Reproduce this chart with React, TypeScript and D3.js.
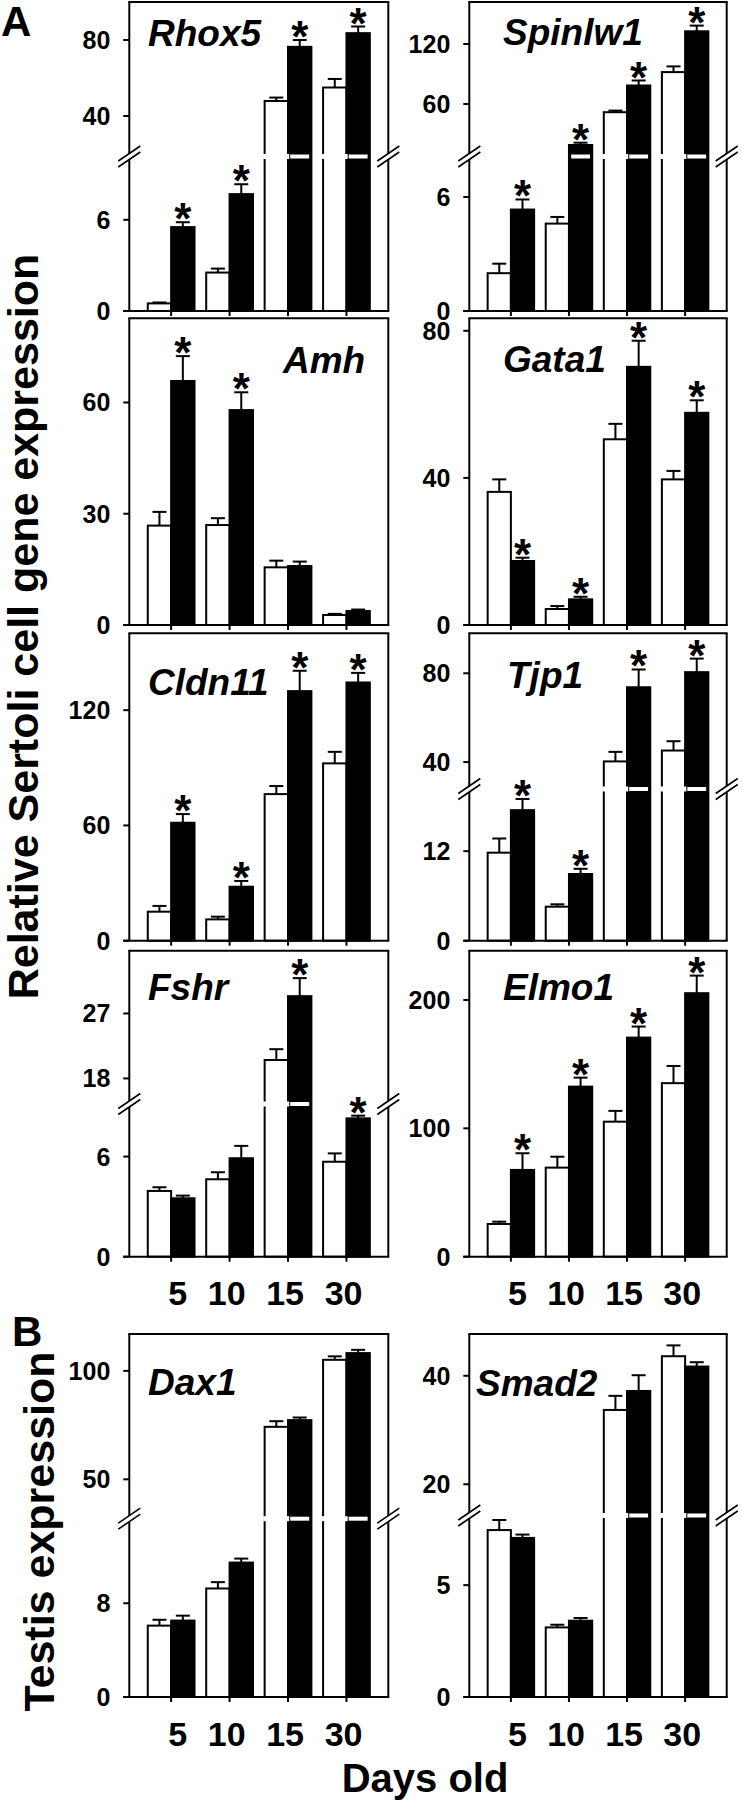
import React from 'react';
import * as d3 from 'd3';

// ---------- data ----------
const days = ['5', '10', '15', '30'];

const rhox5White = [0.5, 2.53, 47.9, 55.0];
const rhox5WhiteErr = [0.06, 0.26, 1.8, 4.5];
const rhox5Black = [5.52, 7.69, 76.4, 83.6];
const rhox5BlackErr = [0.32, 0.65, 3.6, 3.5];
const rhox5Stars = [1, 1, 1, 1];
const rhox5Domain = [0, 10, 20, 100];
const rhox5Ticks = [0, 6, 40, 80];

const spinlw1White = [1.99, 4.6, 51.8, 91.9];
const spinlw1WhiteErr = [0.5, 0.35, 1.6, 5.7];
const spinlw1Black = [5.34, 19.0, 78.5, 132.7];
const spinlw1BlackErr = [0.53, 2.3, 5.0, 5.7];
const spinlw1Stars = [1, 1, 1, 1];
const spinlw1Domain = [0, 8, 10, 162];
const spinlw1Ticks = [0, 6, 60, 120];

const amhWhite = [26.8, 26.95, 15.55, 2.7];
const amhWhiteErr = [3.7, 1.85, 1.8, 0.3];
const amhBlack = [65.8, 57.95, 15.9, 3.77];
const amhBlackErr = [6.7, 4.8, 1.2, 0.4];
const amhStars = [1, 1, 0, 0];
const amhDomain = [0, 82.7];
const amhTicks = [0, 30, 60];

const gata1White = [36.2, 4.35, 50.5, 39.6];
const gata1WhiteErr = [3.4, 0.8, 4.2, 2.3];
const gata1Black = [17.4, 6.98, 70.2, 57.7];
const gata1BlackErr = [0.9, 0.7, 7.1, 3.4];
const gata1Stars = [1, 1, 1, 1];
const gata1Domain = [0, 83.4];
const gata1Ticks = [0, 40, 80];

const cldn11White = [15.1, 11.1, 76.3, 92.3];
const cldn11WhiteErr = [3, 1.4, 4.2, 6];
const cldn11Black = [61.4, 28.1, 129.9, 134.4];
const cldn11BlackErr = [4.5, 3, 10.6, 5];
const cldn11Stars = [1, 1, 1, 1];
const cldn11Domain = [0, 160];
const cldn11Ticks = [0, 60, 120];

const tjp1White = [11.8, 4.56, 40.3, 45.2];
const tjp1WhiteErr = [1.9, 0.32, 4.3, 4.2];
const tjp1Black = [17.5, 8.94, 73.7, 80.5];
const tjp1BlackErr = [1.5, 0.7, 8, 6.1];
const tjp1Stars = [1, 1, 1, 1];
const tjp1Domain = [0, 20, 29, 98];
const tjp1Ticks = [0, 12, 40, 80];

const fshrWhite = [3.94, 4.64, 20.55, 5.69];
const fshrWhiteErr = [0.22, 0.42, 1.5, 0.5];
const fshrBlack = [3.5, 5.9, 29.4, 8.29];
const fshrBlackErr = [0.16, 0.74, 2.5, 0.16];
const fshrStars = [0, 0, 1, 1];
const fshrDomain = [0, 9, 14.8, 35.7];
const fshrTicks = [0, 6, 18, 27];

const elmo1White = [25.5, 69.4, 105.2, 135.2];
const elmo1WhiteErr = [1.8, 8.5, 8.4, 13.4];
const elmo1Black = [67.6, 132.5, 170.7, 205.3];
const elmo1BlackErr = [13, 7, 8.6, 13.7];
const elmo1Stars = [1, 1, 1, 1];
const elmo1Domain = [0, 238.4];
const elmo1Ticks = [0, 100, 200];

const dax1White = [6.09, 9.26, 74.2, 105.1];
const dax1WhiteErr = [0.5, 0.54, 2.6, 1.6];
const dax1Black = [6.52, 11.47, 77.3, 108.2];
const dax1BlackErr = [0.42, 0.34, 1.2, 1.5];
const dax1Stars = [0, 0, 0, 0];
const dax1Domain = [0, 15, 33, 117];
const dax1Ticks = [0, 8, 50, 100];

const smad2White = [7.46, 3.11, 33.7, 43.6];
const smad2WhiteErr = [0.45, 0.12, 2.6, 2];
const smad2Black = [7.11, 3.41, 37.2, 41.7];
const smad2BlackErr = [0.15, 0.12, 2.9, 0.8];
const smad2Stars = [0, 0, 0, 0];
const smad2Domain = [0, 8, 14.7, 47.7];
const smad2Ticks = [0, 5, 20, 40];

// ---------- layout ----------
const FONT = '"Liberation Sans", Arial, Helvetica, sans-serif';
const cols = [
  { ax: 129.3, rx: 388.3 },
  { ax: 469.3, rx: 726.7 },
];
const rows = [
  { top: 2, base: 311 },
  { top: 318.3, base: 625 },
  { top: 633.3, base: 940.7 },
  { top: 950.7, base: 1256.7 },
  { top: 1334, base: 1697 },
];

type Panel = {
  gene: string; col: number; row: number;
  white: number[]; whiteErr: number[]; black: number[]; blackErr: number[];
  stars: number[]; domain: number[]; ticks: number[];
  brk?: number; lx: number; ly: number; xLabels?: boolean;
};

const panels: Panel[] = [
  { gene: 'Rhox5', col: 0, row: 0, white: rhox5White, whiteErr: rhox5WhiteErr, black: rhox5Black, blackErr: rhox5BlackErr, stars: rhox5Stars, domain: rhox5Domain, ticks: rhox5Ticks, brk: 156.5, lx: 148, ly: 46 },
  { gene: 'Spinlw1', col: 1, row: 0, white: spinlw1White, whiteErr: spinlw1WhiteErr, black: spinlw1Black, blackErr: spinlw1BlackErr, stars: spinlw1Stars, domain: spinlw1Domain, ticks: spinlw1Ticks, brk: 156.5, lx: 503, ly: 45 },
  { gene: 'Amh', col: 0, row: 1, white: amhWhite, whiteErr: amhWhiteErr, black: amhBlack, blackErr: amhBlackErr, stars: amhStars, domain: amhDomain, ticks: amhTicks, lx: 283, ly: 373 },
  { gene: 'Gata1', col: 1, row: 1, white: gata1White, whiteErr: gata1WhiteErr, black: gata1Black, blackErr: gata1BlackErr, stars: gata1Stars, domain: gata1Domain, ticks: gata1Ticks, lx: 503, ly: 372 },
  { gene: 'Cldn11', col: 0, row: 2, white: cldn11White, whiteErr: cldn11WhiteErr, black: cldn11Black, blackErr: cldn11BlackErr, stars: cldn11Stars, domain: cldn11Domain, ticks: cldn11Ticks, lx: 148, ly: 695 },
  { gene: 'Tjp1', col: 1, row: 2, white: tjp1White, whiteErr: tjp1WhiteErr, black: tjp1Black, blackErr: tjp1BlackErr, stars: tjp1Stars, domain: tjp1Domain, ticks: tjp1Ticks, brk: 789, lx: 507, ly: 688 },
  { gene: 'Fshr', col: 0, row: 3, white: fshrWhite, whiteErr: fshrWhiteErr, black: fshrBlack, blackErr: fshrBlackErr, stars: fshrStars, domain: fshrDomain, ticks: fshrTicks, brk: 1104, lx: 148, ly: 1000, xLabels: true },
  { gene: 'Elmo1', col: 1, row: 3, white: elmo1White, whiteErr: elmo1WhiteErr, black: elmo1Black, blackErr: elmo1BlackErr, stars: elmo1Stars, domain: elmo1Domain, ticks: elmo1Ticks, lx: 503, ly: 1000, xLabels: true },
  { gene: 'Dax1', col: 0, row: 4, white: dax1White, whiteErr: dax1WhiteErr, black: dax1Black, blackErr: dax1BlackErr, stars: dax1Stars, domain: dax1Domain, ticks: dax1Ticks, brk: 1518.7, lx: 148, ly: 1395, xLabels: true },
  { gene: 'Smad2', col: 1, row: 4, white: smad2White, whiteErr: smad2WhiteErr, black: smad2Black, blackErr: smad2BlackErr, stars: smad2Stars, domain: smad2Domain, ticks: smad2Ticks, brk: 1515.5, lx: 476, ly: 1396, xLabels: true },
];

const SW = 2;
const GAP = 2.5;

function BreakMark({ cx, y }: { cx: number; y: number }) {
  const dx = 11, dy = 7.5, off = 3;
  const pts = [
    [cx - dx, y - off + dy], [cx + dx, y - off - dy],
    [cx + dx, y + off - dy], [cx - dx, y + off + dy],
  ];
  return (
    <g>
      <polygon points={pts.map(p => p.join(',')).join(' ')} fill="#fff" stroke="none" />
      <line x1={cx - dx} y1={y - off + dy} x2={cx + dx} y2={y - off - dy} stroke="#000" strokeWidth={1.6} />
      <line x1={cx - dx} y1={y + off + dy} x2={cx + dx} y2={y + off - dy} stroke="#000" strokeWidth={1.6} />
    </g>
  );
}

function PanelView({ p }: { p: Panel }) {
  const { ax, rx } = cols[p.col];
  const { top, base } = rows[p.row];
  const hasBreak = p.domain.length === 4 && p.brk !== undefined;
  const x = d3.scaleBand<string>().domain(days).range([ax, rx]).paddingInner(0.2).paddingOuter(0.316);
  const y = d3.scaleLinear()
    .domain(p.domain)
    .range(hasBreak ? [base, (p.brk as number) + GAP, (p.brk as number) - GAP, top] : [base, top]);
  const bw = x.bandwidth() / 2;
  const brk = p.brk as number;
  const upperStart = hasBreak ? p.domain[2] : Infinity;

  const vLine = (xx: number) =>
    hasBreak ? (
      <g>
        <line x1={xx} y1={top} x2={xx} y2={brk - GAP} stroke="#000" strokeWidth={SW} />
        <line x1={xx} y1={brk + GAP} x2={xx} y2={base} stroke="#000" strokeWidth={SW} />
      </g>
    ) : (
      <line x1={xx} y1={top} x2={xx} y2={base} stroke="#000" strokeWidth={SW} />
    );

  return (
    <g>
      {/* bars */}
      {days.map((d, i) => {
        const x0 = x(d) as number;
        const wv = p.white[i], bv = p.black[i];
        return (
          <g key={d}>
            <rect x={x0} y={y(wv)} width={bw} height={base - y(wv)} fill="#fff" stroke="#000" strokeWidth={SW} />
            <rect x={x0 + bw} y={y(bv)} width={bw} height={base - y(bv)} fill="#000" stroke="#000" strokeWidth={SW} />
            {wv > upperStart && (
              <rect x={x0 - 1.5} y={brk - GAP} width={bw + 2.7} height={GAP * 2} fill="#fff" />
            )}
            {bv > upperStart && (
              <rect x={x0 + bw + 2.2} y={brk - GAP + 0.5} width={bw - 4.4} height={GAP * 2 - 1} fill="#fff" />
            )}
          </g>
        );
      })}
      {/* error bars */}
      {days.map((d, i) => {
        const x0 = x(d) as number;
        const items = [
          { cx: x0 + bw / 2, v: p.white[i], e: p.whiteErr[i] },
          { cx: x0 + bw * 1.5, v: p.black[i], e: p.blackErr[i] },
        ];
        return (
          <g key={'e' + d}>
            {items.map((it, k) => (
              <g key={k}>
                <line x1={it.cx} y1={y(it.v)} x2={it.cx} y2={y(it.v + it.e)} stroke="#000" strokeWidth={SW} />
                <line x1={it.cx - 7} y1={y(it.v + it.e)} x2={it.cx + 7} y2={y(it.v + it.e)} stroke="#000" strokeWidth={SW} />
              </g>
            ))}
            {p.stars[i] ? (
              <text x={x0 + bw * 1.5} y={y(p.black[i] + p.blackErr[i]) + 12} textAnchor="middle"
                fontFamily={FONT} fontWeight="bold" fontSize={44}>*</text>
            ) : null}
          </g>
        );
      })}
      {/* frame */}
      <line x1={ax - 1} y1={top} x2={rx + 1} y2={top} stroke="#000" strokeWidth={SW} />
      {vLine(ax)}
      {vLine(rx)}
      <line x1={ax - 6} y1={base} x2={rx + 1} y2={base} stroke="#000" strokeWidth={SW} />
      {/* y ticks */}
      {p.ticks.map(t => (
        <g key={'t' + t}>
          <line x1={ax - 6} y1={y(t)} x2={ax} y2={y(t)} stroke="#000" strokeWidth={SW} />
          <text x={ax - 19} y={y(t)} dy="0.36em" textAnchor="end" fontFamily={FONT} fontWeight="bold" fontSize={25}>{t}</text>
        </g>
      ))}
      {/* x ticks */}
      {days.map(d => {
        const c = (x(d) as number) + x.bandwidth() / 2;
        return <line key={'x' + d} x1={c} y1={base} x2={c} y2={base + 5} stroke="#000" strokeWidth={SW} />;
      })}
      {p.xLabels && days.map(d => {
        const c = (x(d) as number) + x.bandwidth() / 2;
        return (
          <text key={'xl' + d} x={c + 16} y={base + 48.5} textAnchor="end" fontFamily={FONT} fontWeight="bold" fontSize={34}>{d}</text>
        );
      })}
      {/* breaks */}
      {hasBreak && <BreakMark cx={ax} y={brk} />}
      {hasBreak && <BreakMark cx={rx} y={brk} />}
      {/* gene label */}
      <text x={p.lx} y={p.ly} fontFamily={FONT} fontWeight="bold" fontStyle="italic" fontSize={37}>{p.gene}</text>
    </g>
  );
}

export default function App() {
  return (
    <svg width={742} height={1800} viewBox="0 0 742 1800"
      style={{ position: 'absolute', left: 0, top: 0, background: '#fff' }}>
      <rect x={0} y={0} width={742} height={1800} fill="#fff" />
      {panels.map(p => <PanelView key={p.gene} p={p} />)}
      <text x={1} y={36} fontFamily={FONT} fontWeight="bold" fontSize={42}>A</text>
      <text x={12} y={1346} fontFamily={FONT} fontWeight="bold" fontSize={42}>B</text>
      <text transform="translate(38,626.5) rotate(-90)" textAnchor="middle" fontFamily={FONT} fontWeight="bold" fontSize={43}>
        Relative Sertoli cell gene expression
      </text>
      <text transform="translate(54,1531.5) rotate(-90)" textAnchor="middle" fontFamily={FONT} fontWeight="bold" fontSize={43}>
        Testis expression
      </text>
      <text x={425} y={1792} textAnchor="middle" fontFamily={FONT} fontWeight="bold" fontSize={40}>Days old</text>
    </svg>
  );
}
